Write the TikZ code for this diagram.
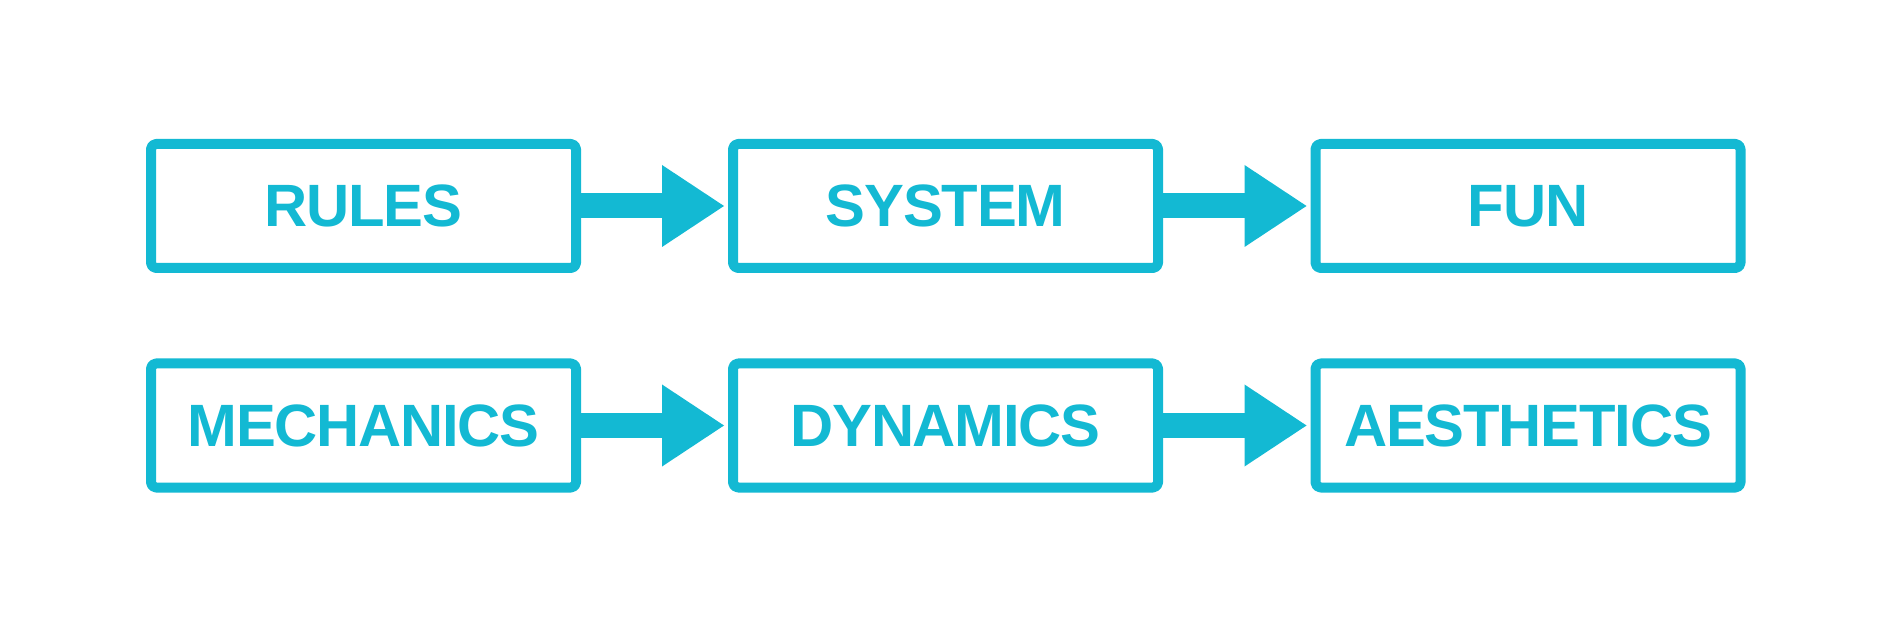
\documentclass[tikz,border=0pt]{standalone}
\usepackage{fontspec}
\setmainfont{Liberation Sans}
\usepackage{tikz}
\usepackage{xcolor}
\usetikzlibrary{arrows.meta}
\definecolor{mdacyan}{HTML}{13B9D3}

\begin{document}
\begin{tikzpicture}[x=1cm,y=1cm,
  stage/.style={draw=mdacyan,line width=0.1cm,rounded corners=0.05cm,line join=round,
    fill=white,minimum width=4.25cm,minimum height=1.24cm,inner sep=0pt,text=mdacyan,
    font=\fontsize{17}{20}\selectfont\bfseries\addfontfeatures{LetterSpace=-2}},
  flow/.style={draw=mdacyan,line width=0.25cm,shorten >=0.04cm,
    -{Triangle[length=0.62cm,width=0.82cm,line width=0pt]}}]
\useasboundingbox (0,0) rectangle (18.92,-6.33);
\node[stage] (rules) at (3.635,-2.06) {RULES};
\node[stage] (system) at (9.455,-2.06) {SYSTEM};
\node[stage] (fun) at (15.28,-2.06) {FUN};
\node[stage] (mechanics) at (3.635,-4.255) {MECHANICS};
\node[stage] (dynamics) at (9.455,-4.255) {DYNAMICS};
\node[stage] (aesthetics) at (15.28,-4.255) {AESTHETICS};
\draw[flow] (rules) -- (system);
\draw[flow] (system) -- (fun);
\draw[flow] (mechanics) -- (dynamics);
\draw[flow] (dynamics) -- (aesthetics);
\end{tikzpicture}
\end{document}
